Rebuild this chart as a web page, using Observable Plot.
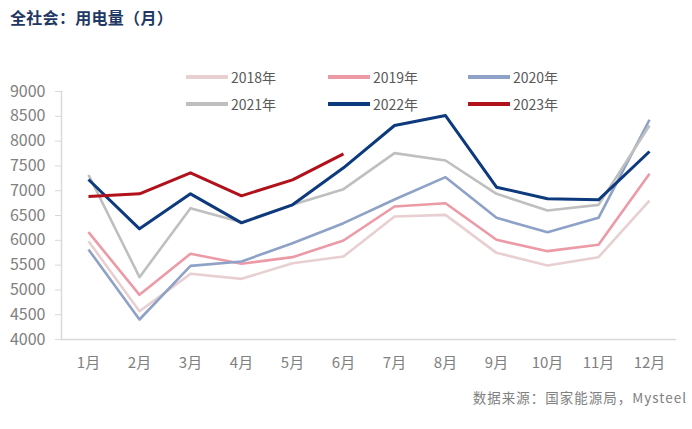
<!DOCTYPE html>
<html>
<head>
<meta charset="utf-8">
<script src="https://cdn.jsdelivr.net/npm/d3@7"></script>
<script src="https://cdn.jsdelivr.net/npm/@observablehq/plot@0.6"></script>
<style>
  html, body { margin: 0; padding: 0; background: #fff; }
  #wrap { position: relative; width: 692px; height: 429px; overflow: hidden; font-family: "Noto Sans CJK SC", "Noto Sans", sans-serif; }
  #title { position: absolute; left: 10px; top: 5px; font-size: 16px; font-weight: 700; color: #1f3864; letter-spacing: 0.3px; white-space: nowrap; }
  #caption { position: absolute; right: 5px; top: 387px; font-size: 13.5px; color: #808080; white-space: nowrap; letter-spacing: 1px; }
  #chart { position: absolute; left: 0; top: 0; }
  .lg { position: absolute; display: flex; align-items: center; font-size: 14px; color: #595959; white-space: nowrap; }
  .lg .sw { width: 42px; height: 4px; margin-right: 3px; }
</style>
</head>
<body>
<div id="wrap">
  <div id="chart"></div>
  <div id="title">全社会：用电量（月）</div>
  <div id="legend"></div>
  <div id="caption">数据来源：国家能源局，Mysteel</div>
</div>
<script>
const months = ["1月","2月","3月","4月","5月","6月","7月","8月","9月","10月","11月","12月"];
const yTicks = [4000,4500,5000,5500,6000,6500,7000,7500,8000,8500,9000];
const years = ["2018年","2019年","2020年","2021年","2022年","2023年"];
const colors = ["#e8cfd1","#eb9aa6","#8ea1c7","#bfbfbf","#0c3a7d","#b0111b"];

const v2018 = [5982,4571,5324,5223,5539,5673,6480,6513,5747,5492,5660,6802];
const v2019 = [6164,4901,5728,5526,5660,5996,6681,6748,6010,5781,5909,7340];
const v2020 = [5815,4403,5485,5573,5942,6345,6823,7273,6453,6164,6453,8430];
const v2021 = [7320,5257,6648,6366,6715,7031,7757,7609,6937,6601,6715,8315];
const v2022 = [7226,6231,6937,6352,6715,7461,8315,8516,7071,6836,6816,7790];
const v2023 = [6883,6937,7361,6897,7219,7743];

const series = [v2018, v2019, v2020, v2021, v2022, v2023];
const widths = [2.6, 2.6, 2.6, 2.6, 3, 3];

const marks = [
  Plot.frame({anchor: "left", stroke: "#d9d9d9", strokeWidth: 1.5}),
  Plot.frame({anchor: "bottom", stroke: "#d9d9d9", strokeWidth: 1.5}),
  Plot.axisY({ticks: yTicks, tickSize: 6, text: null, stroke: "#d9d9d9"}),
  Plot.axisY({ticks: yTicks, tickSize: 0, tickPadding: 16, tickFormat: d => String(d), fill: "#808080", fontSize: 16, label: null}),
  Plot.axisX({tickSize: 0, tickPadding: 18, fill: "#808080", fontSize: 15, label: null})
];
series.forEach((vals, i) => {
  const rows = vals.map((v, j) => ({month: months[j], value: v}));
  marks.push(Plot.lineY(rows, {x: "month", y: "value", stroke: colors[i], strokeWidth: widths[i], strokeLinejoin: "round", strokeLinecap: "butt"}));
});

const chart = Plot.plot({
  width: 692,
  height: 429,
  marginLeft: 61,
  marginRight: 17,
  marginTop: 91,
  marginBottom: 90,
  style: {fontFamily: "'Noto Sans CJK SC', 'Noto Sans', sans-serif", background: "transparent"},
  x: {type: "point", domain: months, padding: 0.5, label: null},
  y: {domain: [4000, 9000], label: null},
  marks
});
document.getElementById("chart").appendChild(chart);

// legend
const lgPos = [[186, 77], [328, 77], [468, 77], [186, 104], [328, 104], [468, 104]];
const legend = document.getElementById("legend");
years.forEach((y, i) => {
  const d = document.createElement("div");
  d.className = "lg";
  d.style.left = lgPos[i][0] + "px";
  d.style.top = (lgPos[i][1] - 10) + "px";
  d.style.height = "20px";
  d.innerHTML = `<span class="sw" style="background:${colors[i]}"></span><span>${y}</span>`;
  legend.appendChild(d);
});
</script>
</body>
</html>
